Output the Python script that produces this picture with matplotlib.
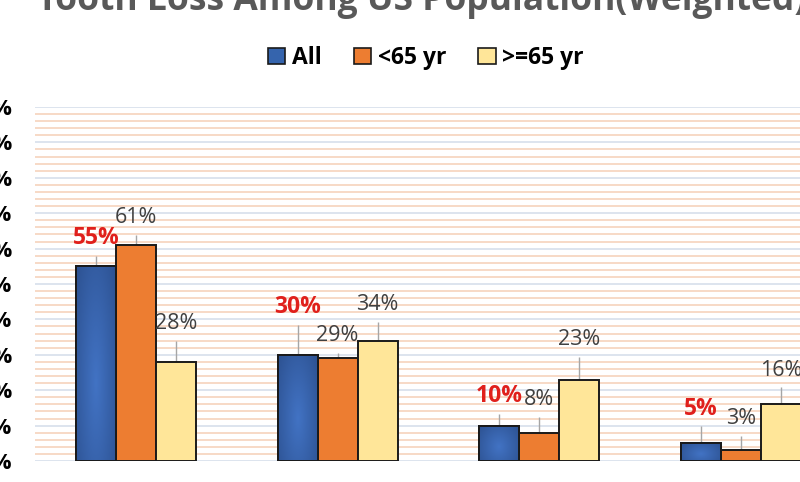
import numpy as np
import matplotlib
matplotlib.use("Agg")
import matplotlib.pyplot as plt
from matplotlib.colors import LinearSegmentedColormap
from matplotlib.patches import Patch

plt.rcParams['font.family'] = ['Open Sans', 'DejaVu Sans']

# Values (percent)
series_names = ["All", "<65 yr", ">=65 yr"]
all_vals = [55, 30, 10, 5]
under65_vals = [61, 29, 8, 3]
over65_vals = [28, 34, 23, 16]
# upper whisker lengths (percent points)
all_err = [3.0, 8.5, 3.4, 4.8]
under65_err = [2.8, 1.5, 4.5, 4.2]
over65_err = [5.9, 5.4, 6.5, 4.8]

title = "Tooth Loss Among US Population(Weighted)"

W, H = 800, 482
fig = plt.figure(figsize=(W / 100, H / 100), dpi=100)
fig.patch.set_facecolor("white")
ax = fig.add_axes([35 / W, 21 / H, 807 / W, 354 / H])

x = np.arange(len(all_vals))
bw = 0.198
offsets = [-bw, 0.0, bw]
colors = ["#3564ad", "#ed7d31", "#ffe699"]
values = [all_vals, under65_vals, over65_vals]
errs = [all_err, under65_err, over65_err]

# blue bars get a soft radial gradient like the original
blue_cmap = LinearSegmentedColormap.from_list("blu", ["#4273c4", "#2d5292"])
gy, gx = np.mgrid[0:1:100j, 0:1:40j]
grad = np.sqrt(((gx - 0.5) / 0.6) ** 2 + ((gy - 0.4) / 0.8) ** 2)

for i in range(3):
    bars = ax.bar(x + offsets[i], values[i], width=bw, color=colors[i],
                  edgecolor="#1a1a1a", linewidth=1.4, zorder=3)
    if i == 0:
        for b in bars:
            im = ax.imshow(grad, cmap=blue_cmap, aspect="auto", origin="lower",
                           extent=(b.get_x(), b.get_x() + b.get_width(), 0, b.get_height()),
                           zorder=3.5, vmin=0, vmax=1.1)
            im.set_clip_path(b)
            # redraw outline on top
            ax.bar(b.get_x() + b.get_width() / 2, b.get_height(), width=bw,
                   fill=False, edgecolor="#1a1a1a", linewidth=1.4, zorder=4)
    ax.errorbar(x + offsets[i], values[i], yerr=[np.zeros(len(x)), errs[i]],
                fmt="none", ecolor="#a6a6a6", elinewidth=1.0, capsize=0, zorder=2.5)
    for xi, v, e in zip(x + offsets[i], values[i], errs[i]):
        if i == 0:
            ax.annotate(f"{v}%", (xi, v + e), xytext=(0, 12.5), textcoords="offset points",
                        ha="center", va="center", fontsize=16.5, fontweight="bold",
                        color="#e0201c", zorder=6)
        else:
            ax.annotate(f"{v}%", (xi, v + e), xytext=(0, 12.5), textcoords="offset points",
                        ha="center", va="center", fontsize=15.5, color="#404040", zorder=6)

ax.set_xlim(-0.5, 3.5)
ax.set_ylim(0, 100)
ax.set_yticks(np.arange(0, 101, 10))
ax.set_yticks([v for v in range(0, 101, 2) if v % 10], minor=True)
ax.yaxis.set_major_formatter(matplotlib.ticker.FuncFormatter(lambda v, p: f"{v:.0f}%"))
ax.tick_params(axis="y", which="both", length=0, pad=16.5, labelsize=16)
for lab in ax.get_yticklabels():
    lab.set_fontweight("bold")
ax.yaxis.grid(True, which="major", color="#dde4ee", linewidth=1.4, zorder=0)
ax.yaxis.grid(True, which="minor", color="#f7d9c6", linewidth=1.4, zorder=0)
ax.set_axisbelow(True)
ax.set_xticks([])
for s in ax.spines.values():
    s.set_visible(False)

fig.text(422 / W, 1 - 10 / H, title, ha="center", va="baseline", fontsize=25.5,
         fontweight="bold", color="#595959")

handles = [Patch(facecolor=c, edgecolor="#1a1a1a", linewidth=1.2) for c in colors]
fig.legend(handles, series_names, loc="center", bbox_to_anchor=(426 / W, 1 - 58 / H),
           ncol=3, frameon=False, prop={"weight": "bold", "size": 16.5},
           handlelength=0.75, handleheight=0.75, handletextpad=0.3, columnspacing=1.4)

fig.savefig("out.png", dpi=100)
